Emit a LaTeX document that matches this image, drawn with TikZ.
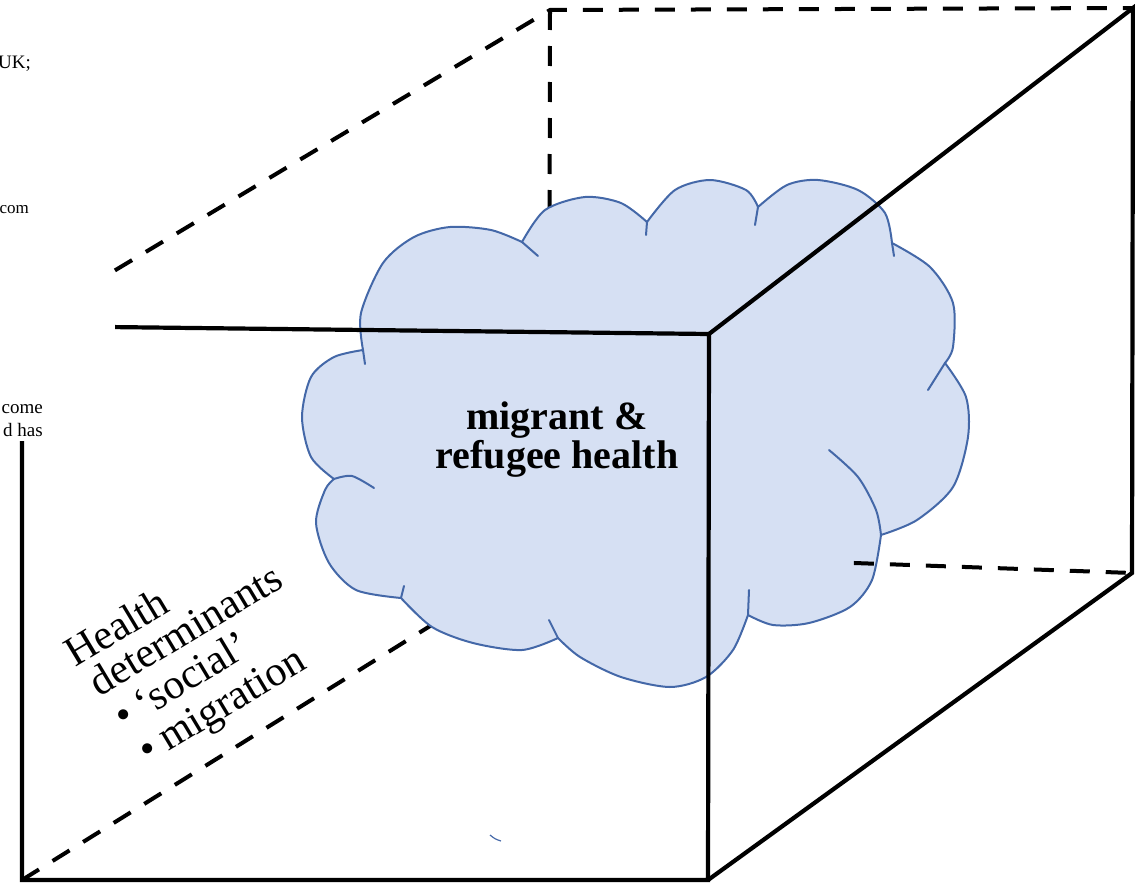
\documentclass[tikz,border=0pt]{standalone}
\usepackage{fontspec}
\setmainfont{Liberation Serif}
\usetikzlibrary{calc}
\definecolor{cloudfill}{HTML}{D6E0F3}
\definecolor{cloudline}{HTML}{4468A8}
\begin{document}
\begin{tikzpicture}[x=1pt,y=-1pt,
  cubeline/.style={line width=4.2pt, line join=miter},
  cubedash/.style={line width=4pt, dash pattern=on 20pt off 16pt},
  cloudshape/.style={fill=cloudfill, draw=cloudline, line width=2pt, line join=round},
  cloudtail/.style={draw=cloudline, line width=2pt, line cap=round},
  sidetext/.style={font=\fontsize{42}{36}\selectfont, inner sep=0pt, anchor=base west},
  fragtext/.style={font=\fontsize{19}{22}\selectfont, inner sep=0pt, anchor=base east},
  titletext/.style={font=\bfseries\fontsize{40}{39}\selectfont, align=center, inner sep=0pt}]
\useasboundingbox (0,0) rectangle (1135,883);
% cube corners
\coordinate (FTL) at (22,326);
\coordinate (FTR) at (709,334);
\coordinate (FBR) at (708,880);
\coordinate (FBL) at (22,880);
\coordinate (BTL) at (550,10);
\coordinate (BTR) at (1133,8);
\coordinate (BBR) at (1132,573);
\coordinate (BBL) at (549,552);
\coordinate (FTv) at ($(FTL)!0.1354!(FTR)$);
\coordinate (TLv) at ($(FTL)!0.176!(BTL)$);
\coordinate (FLv) at (22,441);
\coordinate (BBv) at ($(BBL)!0.523!(BBR)$);
% hidden edges
\draw[cubedash] (TLv) -- (BTL) -- (BTR);
\draw[cubedash] (BTL) -- (BBL);
\draw[cubedash] (FBL) -- (BBL);
% cloud
\path[cloudshape]
  plot[smooth] coordinates {(363,350) (361,313) (383,263) (414,237) (450,227) (491,230) (522,242)}
  -- plot[smooth] coordinates {(522,242) (545,210) (585,197) (621,203) (647,222)}
  -- plot[smooth] coordinates {(647,222) (675,190) (710,180) (746,190) (758,207)}
  -- plot[smooth] coordinates {(758,207) (787,185) (818,180) (858,190) (885,213) (892,243)}
  -- plot[smooth] coordinates {(892,243) (930,267) (953,303) (953,347) (945,363)}
  -- plot[smooth] coordinates {(945,363) (966,397) (968,437) (953,487) (917,520) (881,535)}
  -- plot[smooth] coordinates {(881,535) (872,580) (850,607) (809,623) (773,625) (748,615)}
  -- plot[smooth] coordinates {(748,615) (733,650) (706,677) (670,687) (621,677) (580,657) (558,638)}
  -- plot[smooth] coordinates {(558,638) (522,650) (473,643) (432,627) (401,598)}
  -- plot[smooth] coordinates {(401,598) (356,590) (329,563) (316,523) (325,490) (334,479)}
  -- plot[smooth] coordinates {(334,479) (311,457) (302,417) (311,377) (334,357) (363,350)}
  -- cycle;
% inner tails of the cloud
\draw[cloudtail] (363,350) -- (365,364);
\draw[cloudtail] (522,242) -- (538,256);
\draw[cloudtail] (647,222) -- (646,235);
\draw[cloudtail] (758,207) -- (755,225);
\draw[cloudtail] (892,243) -- (894,256);
\draw[cloudtail] (945,363) -- (928,390);
\draw[cloudtail] plot[smooth] coordinates {(881,535) (876,510) (858,477) (829,450)};
\draw[cloudtail] (748,615) -- (749,590);
\draw[cloudtail] (558,638) -- (549,620);
\draw[cloudtail] (401,598) -- (404,586);
\draw[cloudtail] plot[smooth] coordinates {(334,479) (352,476) (374,488)};
\draw[draw=cloudline, line width=1.2pt] (490,835) .. controls (495,839) .. (501,841);
% visible edges
\draw[cubeline] (FTv) -- (FTR) -- (FBR) -- (FBL) -- (FLv);
\draw[cubeline] (FTR) -- (BTR) -- (BBR) -- (FBR);
\draw[cubedash] (BBv) -- (BBR);
% texts
\node[titletext] (title) at (557,440) {migrant \&\\refugee health};
\begin{scope}[shift={(75,668)}, rotate=31, transform shape]
  \node[sidetext] (h1) at (0,0) {Health};
  \node[sidetext] (h2) at (6,38) {determinants};
  \node[sidetext] (h3) at (10,79) {•\hspace{9pt}‘social’};
  \node[sidetext] (h4) at (13,120) {•\hspace{9pt}migration};
\end{scope}
\node[fragtext] (f1) at (31,69) {UK;};
\node[fragtext, font=\fontsize{17}{20}\selectfont] (f2) at (29,213) {com};
\node[fragtext] (f3) at (43,413) {come};
\node[fragtext] (f4) at (43,436) {d has};
\end{tikzpicture}
\end{document}
